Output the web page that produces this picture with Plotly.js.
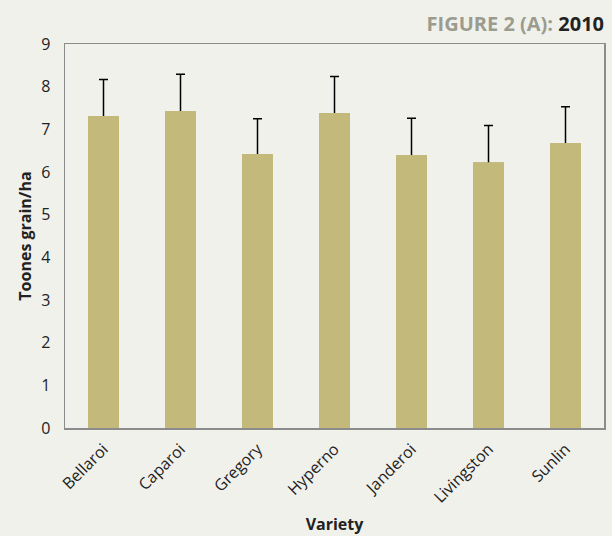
<!DOCTYPE html>
<html>
<head>
<meta charset="utf-8">
<script src="https://cdn.plot.ly/plotly-3.0.1.min.js"></script>
<style>html,body{margin:0;padding:0;background:#F1F1EC;}</style>
</head>
<body>
<div id="chart" style="width:612px;height:536px;"></div>
<script>
const varieties = ["Bellaroi", "Caparoi", "Gregory", "Hyperno", "Janderoi", "Livingston", "Sunlin"];
const yields = [7.31, 7.43, 6.42, 7.38, 6.40, 6.23, 6.68];
const errors = [0.86, 0.86, 0.83, 0.86, 0.86, 0.86, 0.85];
const yTicks = [0, 1, 2, 3, 4, 5, 6, 7, 8, 9];

// Error bars (symmetric; the lower half is hidden by the bar drawn over it)
const errTrace = {
  type: "bar",
  x: varieties,
  y: yields,
  marker: {color: "#C2B97A"},
  width: 0.4,
  error_y: {type: "data", array: errors, color: "#000000", thickness: 1.5, width: 4.5},
  hoverinfo: "skip"
};
const barTrace = {
  type: "bar",
  x: varieties,
  y: yields,
  marker: {color: "#C2B97A"},
  width: 0.4
};

const layout = {
  width: 612, height: 536,
  paper_bgcolor: "#F1F1EC", plot_bgcolor: "#F1F1EC",
  margin: {l: 65, r: 8, t: 44, b: 108},
  font: {family: "Open Sans, sans-serif", size: 16, color: "#222222"},
  barmode: "overlay",
  title: {
    text: "<b><span style='color:#9C9C8E'>FIGURE 2 (A):</span> 2010</b>",
    font: {family: "Open Sans, sans-serif", size: 20, color: "#222222"},
    x: 1, xref: "paper", xanchor: "right",
    y: 0.955, yref: "container", yanchor: "middle"
  },
  xaxis: {
    tickangle: -45,
    tickfont: {size: 16},
    showline: true, linecolor: "#8C8C8C", linewidth: 1.5, mirror: true,
    ticks: "", showgrid: false, ticklabelstandoff: 4,
    title: {text: "<b>Variety</b>", font: {size: 16, color: "#222222"}, standoff: 12}
  },
  yaxis: {
    range: [0, 9], tickvals: yTicks, ticktext: yTicks.map(String),
    tickfont: {size: 16},
    showline: true, linecolor: "#8C8C8C", linewidth: 1.5, mirror: true,
    ticks: "", showgrid: false, zeroline: false, ticklabelstandoff: 10,
    title: {text: "<b>Toones grain/ha</b>", font: {size: 16, color: "#222222"}, standoff: 5}
  },
  showlegend: false
};

Plotly.newPlot("chart", [errTrace, barTrace], layout, {displayModeBar: false, staticPlot: true});
</script>
</body>
</html>
